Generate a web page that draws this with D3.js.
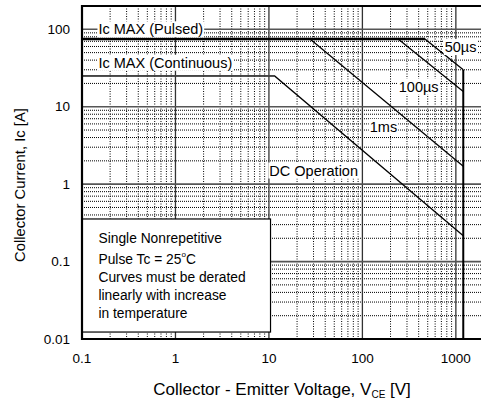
<!DOCTYPE html>
<html>
<head>
<meta charset="utf-8">
<script src="https://cdn.jsdelivr.net/npm/d3@7"></script>
<style>
  body { margin: 0; background: #fff; }
  svg { font-family: "Liberation Sans", Arial, sans-serif; }
</style>
</head>
<body>
<div id="container"><svg width="481" height="402"></svg></div>
<script>
// tick values
const xTicks = [0.1, 1, 10, 100, 1000]
const yTicks = [0.01, 0.1, 1, 10, 100]
const xTickLabels = ['0.1', '1', '10', '100', '1000']
const yTickLabels = ['0.01', '0.1', '1', '10', '100']

// limits
const icPulsed = 75
const icContinuous = 25

// SOA curves [Vce, Ic]
const curve50us = [[0.1, 75], [466, 75], [1200, 30]]
const curve100us = [[241, 75], [1200, 15.7]]
const curve1ms = [[27.5, 75], [1200, 1.7]]
const curveDC = [[0.1, 25], [11.5, 25], [1200, 0.215]]
const boundary = [[1200, 30], [1200, 0.01]]

const svg = d3.select('svg')

const x = d3.scaleLog().domain([0.1, 2000]).range([82, 484])
const y = d3.scaleLog().domain([0.01, 200]).range([339, 6])

const chart = svg.append('g')

// minor grid (dotted)
const minorX = []
for (let d = 0.1; d <= 1000; d *= 10) {
  for (let k = 2; k <= 9; k++) if (d * k < 2000) minorX.push(d * k)
}
const minorY = []
for (let d = 0.01; d <= 100; d *= 10) {
  for (let k = 2; k <= 9; k++) if (d * k < 200) minorY.push(d * k)
}

chart.selectAll('.vminor').data(minorX).enter().append('line')
  .attr('x1', d => x(d)).attr('x2', d => x(d))
  .attr('y1', y(200)).attr('y2', y(0.01))
  .attr('stroke', '#000').attr('stroke-width', 1)
  .attr('stroke-dasharray', '1,1.5')

chart.selectAll('.hminor').data(minorY).enter().append('line')
  .attr('x1', x(0.1)).attr('x2', x(2000))
  .attr('y1', d => y(d)).attr('y2', d => y(d))
  .attr('stroke', '#000').attr('stroke-width', 1)
  .attr('stroke-dasharray', '1,1')

// major grid
chart.selectAll('.vmajor').data(xTicks.slice(1)).enter().append('line')
  .attr('x1', d => x(d)).attr('x2', d => x(d))
  .attr('y1', y(200)).attr('y2', y(0.01))
  .attr('stroke', '#333').attr('stroke-width', 1.3)

chart.selectAll('.hmajor').data(yTicks.slice(1)).enter().append('line')
  .attr('x1', x(0.1)).attr('x2', x(2000))
  .attr('y1', d => y(d)).attr('y2', d => y(d))
  .attr('stroke', '#555').attr('stroke-width', 1.6)

// note box
const boxTop = y(0.355)
chart.append('rect')
  .attr('x', x(0.1)).attr('y', boxTop)
  .attr('width', x(10.4) - x(0.1)).attr('height', y(0.0123) - boxTop)
  .attr('fill', '#fff').attr('stroke', '#000').attr('stroke-width', 1.2)

const note = chart.append('text')
  .attr('font-size', 13.8)
  .attr('dominant-baseline', 'central')
note.append('tspan').attr('x', x(0.15)).attr('y', boxTop + 19.5).text('Single Nonrepetitive')
note.append('tspan').attr('x', x(0.15)).attr('y', boxTop + 40).text('Pulse Tc = 25')
note.append('tspan').attr('dy', -5).attr('font-size', 8).text('o')
note.append('tspan').attr('dy', 5).text('C')
note.append('tspan').attr('x', x(0.15)).attr('y', boxTop + 58.5).text('Curves must be derated')
note.append('tspan').attr('x', x(0.15)).attr('y', boxTop + 76).text('linearly with increase')
note.append('tspan').attr('x', x(0.15)).attr('y', boxTop + 94).text('in temperature')

// curves
const line = d3.line().x(d => x(d[0])).y(d => y(d[1]))

chart.append('path').datum(curveDC).attr('d', line)
  .attr('fill', 'none').attr('stroke', '#000').attr('stroke-width', 1.3)
chart.append('line')
  .attr('x1', x(0.1)).attr('x2', x(11.5))
  .attr('y1', y(icContinuous)).attr('y2', y(icContinuous))
  .attr('stroke', '#444').attr('stroke-width', 1.8)

chart.append('path').datum(curve1ms).attr('d', line)
  .attr('fill', 'none').attr('stroke', '#000').attr('stroke-width', 1.3)
chart.append('path').datum(curve100us).attr('d', line)
  .attr('fill', 'none').attr('stroke', '#000').attr('stroke-width', 1.3)
chart.append('path').datum(curve50us).attr('d', line)
  .attr('fill', 'none').attr('stroke', '#000').attr('stroke-width', 1.3)
chart.append('line')
  .attr('x1', x(0.1)).attr('x2', x(466))
  .attr('y1', y(icPulsed)).attr('y2', y(icPulsed))
  .attr('stroke', '#000').attr('stroke-width', 2.6)
chart.append('path').datum(boundary).attr('d', line)
  .attr('fill', 'none').attr('stroke', '#000').attr('stroke-width', 2)

// curve labels with white background
const labels = [
  { text: 'Ic MAX (Pulsed)', v: 0.15, i: 100 },
  { text: 'Ic MAX (Continuous)', v: 0.15, i: 37 },
  { text: '50µs', v: 760, i: 59 },
  { text: '100µs', v: 245, i: 18.2 },
  { text: '1ms', v: 120, i: 5.5 },
  { text: 'DC Operation', v: 10.1, i: 1.5 }
]

labels.forEach(l => {
  const g = chart.append('g')
  const t = g.append('text')
    .attr('x', x(l.v)).attr('y', y(l.i))
    .attr('dominant-baseline', 'central')
    .attr('font-size', 14.5)
    .text(l.text)
  const b = t.node().getBBox()
  g.insert('rect', 'text')
    .attr('x', b.x - 1).attr('y', b.y)
    .attr('width', b.width + 2).attr('height', b.height)
    .attr('fill', '#fff')
})

// frame
chart.append('path')
  .attr('d', `M${x(2000)},${y(200)}H${x(0.1)}V${y(0.01)}H${x(2000)}`)
  .attr('fill', 'none').attr('stroke', '#000').attr('stroke-width', 2.2)

// tick labels
svg.selectAll('.xtick').data(xTicks).enter().append('text')
  .attr('x', d => x(d)).attr('y', 358)
  .attr('text-anchor', 'middle').attr('dominant-baseline', 'central')
  .attr('font-size', 13.5)
  .text((d, i) => xTickLabels[i])

svg.selectAll('.ytick').data(yTicks).enter().append('text')
  .attr('x', 70).attr('y', d => y(d))
  .attr('text-anchor', 'end').attr('dominant-baseline', 'central')
  .attr('font-size', 13.5)
  .text((d, i) => yTickLabels[i])

// axis titles
const xt = svg.append('text')
  .attr('x', 282).attr('y', 395)
  .attr('text-anchor', 'middle')
  .attr('font-size', 17)
xt.append('tspan').text('Collector - Emitter Voltage, V')
xt.append('tspan').attr('font-size', 10).attr('dy', 3).text('CE')
xt.append('tspan').attr('dy', -3).text(' [V]')

svg.append('text')
  .attr('transform', 'translate(25,185) rotate(-90)')
  .attr('text-anchor', 'middle')
  .attr('font-size', 14.8)
  .text('Collector Current, Ic [A]')
</script>
</body>
</html>
